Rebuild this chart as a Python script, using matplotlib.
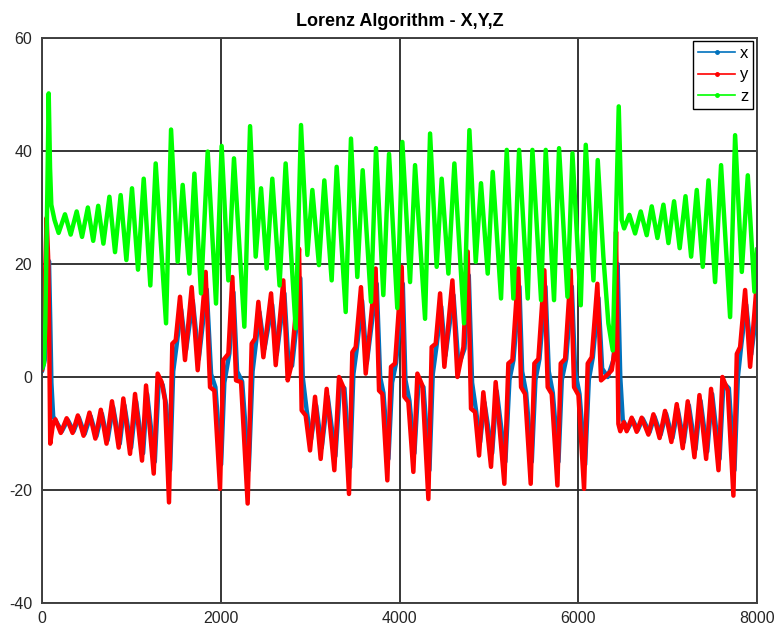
import numpy as np
import matplotlib
matplotlib.use("Agg")
import matplotlib.pyplot as plt
from matplotlib.lines import Line2D

plt.rcParams['font.family'] = ['Liberation Sans', 'DejaVu Sans']
plt.rcParams['axes.unicode_minus'] = False

# time step of each turning point and the value reached there
t_x = [0, 30, 55, 78, 92, 105, 125, 162, 222, 288,
       354, 413, 477, 543, 609, 670, 734, 795, 870, 922,
       997, 1053, 1131, 1176, 1262, 1306, 1350, 1390, 1433, 1468,
       1505, 1556, 1612, 1687, 1754, 1843, 1892, 1940, 2004, 2040,
       2097, 2142, 2183, 2239, 2313, 2356, 2396, 2433, 2489, 2575,
       2627, 2712, 2761, 2798, 2850, 2890, 2917, 2962, 3011, 3067,
       3130, 3197, 3283, 3335, 3384, 3447, 3484, 3522, 3581, 3634,
       3745, 3783, 3820, 3876, 3917, 3962, 4037, 4066, 4111, 4167,
       4212, 4268, 4335, 4372, 4417, 4466, 4514, 4604, 4660, 4727,
       4775, 4812, 4857, 4902, 4950, 5036, 5088, 5185, 5230, 5275,
       5342, 5372, 5417, 5480, 5521, 5566, 5633, 5670, 5715, 5779,
       5816, 5865, 5928, 5965, 6014, 6077, 6118, 6163, 6226, 6267,
       6330, 6394, 6425, 6440, 6470, 6498, 6554, 6610, 6666, 6722,
       6797, 6853, 6922, 6983, 7054, 7114, 7181, 7237, 7312, 7368,
       7443, 7498, 7581, 7625, 7685, 7748, 7786, 7823, 7879, 7935,
       8000]
x_vals = [1.0, 3.0, 12.0, 20.5, 10.0, -1.0, -7.0, -8.0, -9.6, -7.6,
          -9.6, -7.2, -10.1, -6.9, -10.5, -6.5, -11.2, -5.3, -11.8, -5.0,
          -12.5, -4.3, -13.5, -3.0, -15.0, -0.8, -1.4, -5.0, -16.5, 1.0,
          5.5, 12.0, 4.8, 13.5, 3.2, 15.5, 0.5, -1.8, -15.5, -1.0,
          4.2, 15.0, 1.0, -0.8, -16.5, 1.0, 6.3, 11.5, 5.0, 12.8,
          4.0, 14.8, 1.5, 2.0, 9.5, 17.5, 0.0, -6.0, -11.0, -5.0,
          -12.5, -3.5, -14.0, -1.5, -2.0, -16.0, 0.5, 5.0, 13.5, 2.5,
          16.5, 0.0, -2.8, -14.5, -1.0, 2.5, 16.5, -0.5, -4.2, -13.5,
          -1.0, -1.8, -16.5, 0.5, 5.8, 12.5, 3.8, 14.5, 2.0, 5.0,
          18.0, -1.0, -6.0, -11.5, -4.5, -13.5, -2.5, -15.0, -0.5, 3.0,
          16.0, 1.0, -2.8, -15.0, -0.5, 3.2, 16.0, 1.0, -2.8, -15.0,
          -0.5, 3.2, 16.0, 1.0, -3.0, -15.5, -0.5, 3.5, 14.0, 1.5,
          0.0, 3.0, 10.0, 20.0, 0.0, -7.6, -9.2, -7.6, -9.4, -7.4,
          -9.8, -7.0, -10.2, -6.5, -10.8, -5.8, -11.5, -5.0, -12.8, -4.2,
          -13.2, -3.0, -14.5, -1.0, -2.0, -16.5, 0.0, 5.5, 12.8, 4.0,
          12.0]

t_y = [0, 15, 30, 52, 70, 82, 92, 123, 150, 210,
       276, 342, 401, 465, 531, 597, 658, 722, 783, 858,
       910, 985, 1041, 1119, 1164, 1250, 1294, 1339, 1376, 1421,
       1458, 1496, 1544, 1600, 1675, 1742, 1831, 1880, 1928, 1992,
       2029, 2085, 2130, 2171, 2227, 2301, 2346, 2384, 2421, 2477,
       2563, 2615, 2700, 2749, 2786, 2838, 2876, 2905, 2950, 2999,
       3055, 3118, 3185, 3271, 3323, 3372, 3435, 3472, 3510, 3569,
       3622, 3733, 3771, 3808, 3864, 3905, 3950, 4025, 4054, 4099,
       4155, 4200, 4256, 4323, 4360, 4405, 4454, 4502, 4592, 4648,
       4715, 4763, 4800, 4845, 4890, 4938, 5024, 5076, 5173, 5218,
       5263, 5330, 5360, 5405, 5468, 5509, 5554, 5621, 5658, 5703,
       5767, 5804, 5853, 5916, 5953, 6002, 6065, 6106, 6151, 6214,
       6255, 6319, 6375, 6401, 6423, 6449, 6470, 6510, 6542, 6598,
       6654, 6710, 6785, 6841, 6910, 6971, 7042, 7102, 7169, 7225,
       7300, 7356, 7431, 7486, 7569, 7613, 7673, 7736, 7774, 7811,
       7867, 7923, 8000]
y_vals = [1.2, 5.9, 15.4, 28.2, 20.5, 5.0, -11.8, -8.3, -7.5, -9.9,
          -7.3, -9.9, -6.8, -10.4, -6.3, -10.9, -5.8, -11.8, -4.3, -12.5,
          -3.8, -13.6, -3.0, -14.8, -1.5, -17.1, 0.6, -0.9, -4.1, -22.2,
          5.9, 6.5, 14.2, 3.0, 15.9, 1.2, 18.6, -1.8, -2.4, -19.8,
          3.0, 4.1, 17.7, -0.6, -0.9, -22.4, 5.9, 6.8, 13.3, 3.5,
          14.8, 2.1, 17.1, -0.6, 1.8, 11.2, 22.7, -5.9, -6.8, -13.0,
          -3.5, -14.5, -2.1, -16.5, 0.0, -1.8, -20.7, 4.4, 5.3, 15.9,
          0.6, 19.2, -2.4, -3.0, -18.3, 1.8, 2.4, 19.5, -3.5, -4.4,
          -16.8, 0.6, -1.5, -21.6, 5.3, 5.9, 14.8, 1.8, 17.1, 0.0,
          5.3, 22.2, -5.6, -6.2, -13.9, -2.7, -15.9, -0.9, -18.9, 2.4,
          3.0, 19.2, -1.8, -3.0, -18.9, 2.4, 3.2, 18.9, -1.8, -3.0,
          -19.2, 2.4, 3.2, 18.9, -1.8, -3.2, -19.8, 2.4, 3.5, 16.5,
          -0.6, 0.3, 1.2, 4.1, 25.7, -8.3, -9.6, -8.0, -9.6, -7.2,
          -9.7, -7.2, -10.2, -6.6, -10.8, -6.0, -11.5, -4.8, -12.6, -4.3,
          -14.2, -3.2, -14.5, -2.1, -16.5, 0.0, -2.4, -21.0, 4.1, 5.3,
          15.4, 1.8, 17.1]

t_z = [0, 22, 37, 60, 75, 90, 104, 140, 186, 257,
       321, 388, 448, 513, 573, 629, 687, 754, 817, 880,
       944, 1007, 1074, 1138, 1212, 1272, 1388, 1444, 1518, 1574,
       1649, 1705, 1779, 1854, 1947, 2010, 2085, 2148, 2264, 2328,
       2391, 2451, 2514, 2577, 2658, 2726, 2838, 2898, 2969, 3025,
       3099, 3159, 3241, 3297, 3398, 3457, 3528, 3588, 3681, 3737,
       3819, 3883, 3975, 4032, 4118, 4174, 4286, 4342, 4416, 4472,
       4547, 4614, 4722, 4782, 4853, 4912, 4987, 5043, 5136, 5200,
       5274, 5338, 5435, 5487, 5584, 5636, 5729, 5785, 5879, 5935,
       6028, 6084, 6170, 6218, 6281, 6337, 6386, 6453, 6486, 6513,
       6572, 6636, 6699, 6766, 6822, 6886, 6953, 7009, 7072, 7135,
       7200, 7263, 7326, 7393, 7457, 7531, 7598, 7699, 7755, 7830,
       7897, 7971, 8000]
z_vals = [1.5, 2.4, 9.5, 33.0, 50.2, 37.0, 30.5, 27.8, 25.5, 28.8,
          25.2, 29.3, 24.8, 30.0, 24.1, 30.3, 23.6, 31.9, 22.1, 32.2,
          20.7, 33.4, 19.0, 35.1, 16.2, 37.8, 9.5, 43.8, 20.4, 34.0,
          18.3, 36.0, 14.8, 39.9, 13.0, 40.9, 17.1, 38.7, 8.9, 44.4,
          21.3, 33.4, 19.2, 35.1, 16.2, 37.8, 8.6, 44.6, 21.6, 33.1,
          19.8, 34.8, 17.1, 37.2, 11.5, 42.2, 17.7, 36.6, 13.3, 40.5,
          14.5, 39.5, 12.2, 41.6, 16.8, 37.5, 10.3, 43.1, 19.5, 35.1,
          18.3, 37.8, 9.5, 43.7, 20.4, 34.3, 18.3, 36.3, 13.9, 40.2,
          13.9, 40.2, 13.9, 40.2, 13.6, 40.2, 13.6, 40.5, 14.2, 39.6,
          12.7, 41.1, 17.1, 38.4, 21.3, 9.5, 4.7, 47.9, 27.8, 26.3,
          28.7, 25.4, 29.3, 25.1, 30.2, 24.6, 30.5, 23.7, 31.1, 22.8,
          32.0, 21.3, 33.1, 19.5, 34.8, 16.8, 37.5, 10.6, 42.8, 18.6,
          35.7, 15.1, 22.7]

labels = ['x', 'y', 'z']
colors = ['#0072bd', '#ff0000', '#00ff00']

x_ticks = [0, 2000, 4000, 6000, 8000]
y_ticks = [-40, -20, 0, 20, 40, 60]

fig = plt.figure(figsize=(7.78, 6.35), dpi=100)
ax = fig.add_axes([42/778, 32/635, 715/778, 565/635])

series = [(t_x, x_vals), (t_y, y_vals), (t_z, z_vals)]
for (t, v), c in zip(series, colors):
    ax.plot(t, v, color=c, lw=3.2, solid_joinstyle='round', solid_capstyle='round')

ax.set_xlim(0, 8000)
ax.set_ylim(-40, 60)
ax.set_xticks(x_ticks)
ax.set_yticks(y_ticks)
ax.grid(True, color='#262626', lw=1.3)
ax.set_axisbelow(True)
ax.tick_params(length=0, labelsize=11.5, colors='#262626')
ax.tick_params(axis='y', pad=7)
ax.tick_params(axis='x', pad=6)
for s in ax.spines.values():
    s.set_color('#404040')
    s.set_linewidth(1.4)

ax.set_title('Lorenz Algorithm - X,Y,Z', fontsize=13, fontweight='bold', pad=9)

# legend entries drawn thin with a dot, as in the original plot window
handles = [Line2D([], [], color=c, lw=1.2, marker='.', markersize=5) for c in colors]
leg = ax.legend(handles, labels, loc='upper right', bbox_to_anchor=(0.995, 0.995),
                borderaxespad=0, fontsize=12, handlelength=2.2, handletextpad=0.3,
                borderpad=0.3, labelspacing=0.4, fancybox=False, framealpha=1)
leg.get_frame().set_edgecolor('black')
leg.get_frame().set_linewidth(1.0)

fig.savefig('out.png', dpi=100)
